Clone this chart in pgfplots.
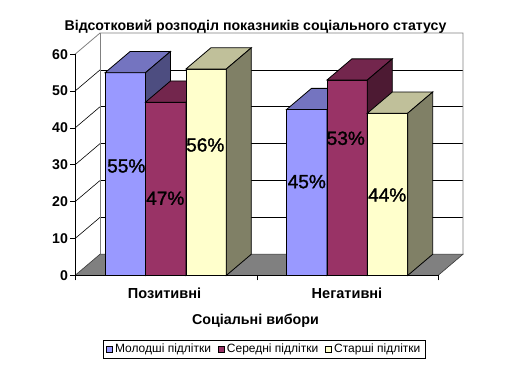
\documentclass[border=0pt]{standalone}
\usepackage{pgfplots}
\pgfplotsset{compat=1.18}
\usepackage{fontspec}
\setmainfont{Liberation Sans}
\newfontfamily\valfont[FakeBold=1.4]{Liberation Sans}

% face colours: front, top, side
\definecolor{blueF}{RGB}{153,153,255}
\definecolor{blueT}{RGB}{116,116,192}
\definecolor{blueS}{RGB}{77,77,128}
\definecolor{plumF}{RGB}{153,51,102}
\definecolor{plumT}{RGB}{115,38,77}
\definecolor{plumS}{RGB}{77,26,51}
\definecolor{ivoryF}{RGB}{255,255,204}
\definecolor{ivoryT}{RGB}{192,192,154}
\definecolor{ivoryS}{RGB}{128,128,102}
\definecolor{floorG}{RGB}{128,128,128}
\definecolor{wallG}{RGB}{128,128,128}

% bar width and depth offset (x in px units, y in value units)
\newcommand\bw{40.4}
\newcommand\dx{25}
\newcommand\dy{5.75}

% #1 left x, #2 value, #3 front, #4 top, #5 side colour
\newcommand\drawbar[5]{%
  \pgfmathsetmacro\xa{#1}%
  \pgfmathsetmacro\xb{#1+\bw}%
  \pgfmathsetmacro\xc{#1+\bw+\dx}%
  \pgfmathsetmacro\xd{#1+\dx}%
  \pgfmathsetmacro\yt{#2+\dy}%
  \edef\barfaces{%
    \noexpand\addplot[fill=#3,draw=black,line width=0.6pt,forget plot]
      coordinates {(\xa,0) (\xb,0) (\xb,#2) (\xa,#2)} -- cycle;
    \noexpand\addplot[fill=#4,draw=black,line width=0.6pt,forget plot]
      coordinates {(\xa,#2) (\xb,#2) (\xc,\yt) (\xd,\yt)} -- cycle;
    \noexpand\addplot[fill=#5,draw=black,line width=0.6pt,forget plot]
      coordinates {(\xb,0) (\xc,\dy) (\xc,\yt) (\xb,#2)} -- cycle;
  }%
  \barfaces
}

\begin{document}
\begin{tikzpicture}
\begin{axis}[
  scale only axis, width=272.25pt, height=165.9pt,
  xmin=75, xmax=438, ymin=0, ymax=60,
  clip=false, axis on top,
  axis lines*=left,
  axis line style={black, line width=0.6pt},
  ytick={0,10,...,60},
  xtick={75,257,438}, xticklabels={},
  tick align=outside, major tick length=3.6pt,
  tick style={black, line width=0.6pt},
  /pgf/number format/assume math mode=true,
  yticklabel style={font=\bfseries\fontsize{10.6}{12}\selectfont, inner sep=1.5pt},
  legend columns=3,
  legend style={at={(0.522,-0.3345)}, anchor=center, draw=black,
    line width=0.6pt, font=\fontsize{9}{11}\selectfont,
    inner xsep=1.5pt, inner ysep=1pt,
    /tikz/every even column/.append style={column sep=3pt}},
  legend image code/.code={\draw[#1,draw=black,line width=0.5pt] (0pt,-2.2pt) rectangle (4.4pt,2.2pt);},
]
% canvas
\path (axis cs:0,-25.90) rectangle (axis cs:513,74.72);

% back wall and left wall
\draw[black, line width=0.6pt] (axis cs:100,15.75) -- (axis cs:463,15.75);
\draw[black, line width=0.6pt] (axis cs:100,25.75) -- (axis cs:463,25.75);
\draw[black, line width=0.6pt] (axis cs:100,35.75) -- (axis cs:463,35.75);
\draw[black, line width=0.6pt] (axis cs:100,45.75) -- (axis cs:463,45.75);
\draw[black, line width=0.6pt] (axis cs:100,55.75) -- (axis cs:463,55.75);
\draw[black, line width=0.45pt] (axis cs:75,10) -- (axis cs:100,15.75);
\draw[black, line width=0.45pt] (axis cs:75,20) -- (axis cs:100,25.75);
\draw[black, line width=0.45pt] (axis cs:75,30) -- (axis cs:100,35.75);
\draw[black, line width=0.45pt] (axis cs:75,40) -- (axis cs:100,45.75);
\draw[black, line width=0.45pt] (axis cs:75,50) -- (axis cs:100,55.75);
\draw[wallG, line width=0.6pt] (axis cs:75,60) -- (axis cs:100,65.75) -- (axis cs:463,65.75) -- (axis cs:463,5.75);
\draw[wallG, line width=0.6pt] (axis cs:100,5.75) -- (axis cs:100,65.75);

% floor
\draw[fill=floorG, draw=black!75, line width=0.5pt] (axis cs:75,0) -- (axis cs:438,0) -- (axis cs:463,5.75) -- (axis cs:100,5.75) -- cycle;

% Позитивні
\drawbar{105.1}{55}{blueF}{blueT}{blueS}
\drawbar{145.5}{47}{plumF}{plumT}{plumS}
\drawbar{185.9}{56}{ivoryF}{ivoryT}{ivoryS}
% Негативні
\drawbar{286.5}{45}{blueF}{blueT}{blueS}
\drawbar{326.9}{53}{plumF}{plumT}{plumS}
\drawbar{367.3}{44}{ivoryF}{ivoryT}{ivoryS}

% value labels
\begin{scope}[every node/.style={inner sep=0pt, anchor=center, font=\valfont\fontsize{14.3}{16}\selectfont}]
\node at (axis cs:126.3,29.70) {55\%};
\node at (axis cs:165.3,20.94) {47\%};
\node at (axis cs:205.3,35.39) {56\%};
\node at (axis cs:306.8,25.44) {45\%};
\node at (axis cs:345.8,37.21) {53\%};
\node at (axis cs:387.2,21.83) {44\%};
\end{scope}

% titles and category names
\begin{scope}[every node/.style={inner sep=0pt, anchor=base}]
\node[font=\bfseries\fontsize{10.6}{12}\selectfont] at (axis cs:255.5,66.58) {Відсотковий розподіл показників соціального статусу};
\node[font=\bfseries\fontsize{10.9}{12}\selectfont] at (axis cs:164.5,-6.18) {Позитивні};
\node[font=\bfseries\fontsize{10.9}{12}\selectfont] at (axis cs:347,-6.18) {Негативні};
\node[font=\bfseries\fontsize{10.7}{12}\selectfont] at (axis cs:255.5,-13.43) {Соціальні вибори};
\end{scope}

\addlegendimage{fill=blueF}
\addlegendentry{Молодші підлітки}
\addlegendimage{fill=plumF}
\addlegendentry{Середні підлітки}
\addlegendimage{fill=ivoryF}
\addlegendentry{Старші підлітки}
\end{axis}
\end{tikzpicture}
\end{document}
